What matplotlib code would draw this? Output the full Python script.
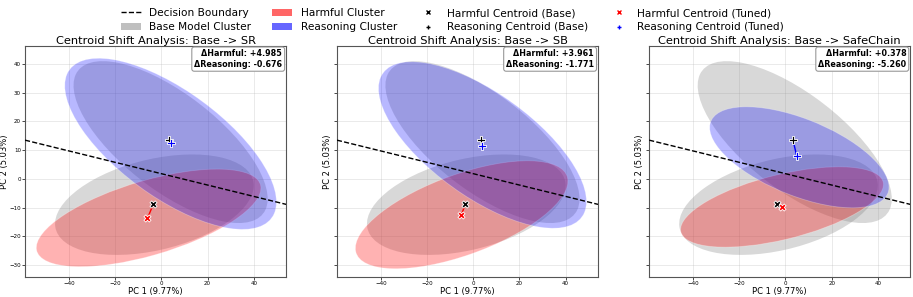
import numpy as np
import matplotlib
matplotlib.use("Agg")
import matplotlib.pyplot as plt
from matplotlib.patches import Ellipse, Patch
from matplotlib.lines import Line2D

# 面板名称与统计量
models = ["SR", "SB", "SafeChain"]
delta_harmful = [4.985, 3.961, 0.378]
delta_reasoning = [-0.676, -1.771, -5.260]

# 质心 (PC1, PC2)
harm_base = (-3.5, -8.9)
reas_base = (3.3, 13.4)
harm_tuned = [(-6.0, -13.7), (-5.1, -12.6), (-1.3, -9.8)]
reas_tuned = [(4.0, 12.6), (3.7, 11.5), (4.9, 7.8)]

# 椭圆: 中心x, 中心y, x半幅, y半幅, 相关系数
base_harm_ell = (-3.0, -9.0, 43.0, 17.5, 0.38)
base_reas_ell = (4.0, 12.8, 42.0, 28.2, -0.70)
harm_ell = [(-5.5, -13.6, 48.6, 17.0, 0.61),
            (-5.0, -12.5, 46.0, 18.8, 0.62),
            (-1.5, -9.8, 43.9, 14.0, 0.56)]
reas_ell = [(4.0, 12.2, 45.8, 29.8, -0.68),
            (4.0, 11.8, 45.0, 29.0, -0.68),
            (6.0, 7.5, 38.8, 17.6, -0.59)]

# 决策边界 y = b + w*x
boundary_w = -0.198
boundary_b = 1.8

xlim = (-59, 54)
ylim = (-34.2, 46.3)


def make_ellipse(p, **kw):
    cx, cy, sx, sy, r = p
    cov = np.array([[sx * sx, r * sx * sy], [r * sx * sy, sy * sy]])
    vals, vecs = np.linalg.eigh(cov)
    order = vals.argsort()[::-1]
    vals, vecs = vals[order], vecs[:, order]
    ang = np.degrees(np.arctan2(vecs[1, 0], vecs[0, 0]))
    return Ellipse((cx, cy), 2 * np.sqrt(vals[0]), 2 * np.sqrt(vals[1]), angle=ang, **kw)


fig = plt.figure(figsize=(9.13, 2.97), dpi=100)
lefts = [0.0274, 0.369, 0.711]
axes = [fig.add_axes([l, 0.0673, 0.286, 0.778]) for l in lefts]

for i, ax in enumerate(axes):
    ax.add_patch(make_ellipse(base_harm_ell, facecolor="gray", alpha=0.3, edgecolor="none"))
    ax.add_patch(make_ellipse(base_reas_ell, facecolor="gray", alpha=0.3, edgecolor="none"))
    ax.add_patch(make_ellipse(harm_ell[i], facecolor="red", alpha=0.3,
                              edgecolor="white", linewidth=0.6))
    ax.add_patch(make_ellipse(reas_ell[i], facecolor="blue", alpha=0.28,
                              edgecolor="white", linewidth=0.6))

    xs = np.array(xlim)
    ax.plot(xs, boundary_b + boundary_w * xs, "k--", lw=1.0, zorder=3)

    ax.plot([harm_base[0], harm_tuned[i][0]], [harm_base[1], harm_tuned[i][1]],
            color="red", lw=1.0, zorder=4)
    ax.plot([reas_base[0], reas_tuned[i][0]], [reas_base[1], reas_tuned[i][1]],
            color="blue", lw=1.0, zorder=4)
    ax.scatter(*harm_base, marker="X", s=26, c="black", edgecolors="white", linewidths=0.6, zorder=5)
    ax.scatter(*reas_base, marker="P", s=26, c="black", edgecolors="white", linewidths=0.6, zorder=5)
    ax.scatter(*harm_tuned[i], marker="X", s=26, c="red", edgecolors="white", linewidths=0.6, zorder=6)
    ax.scatter(*reas_tuned[i], marker="P", s=26, c="blue", edgecolors="white", linewidths=0.6, zorder=6)

    ax.set_xlim(xlim)
    ax.set_ylim(ylim)
    ax.set_xticks([-40, -20, 0, 20, 40])
    ax.set_yticks(range(-30, 41, 10))
    ax.tick_params(labelsize=4, length=2, width=0.5, pad=1)
    if i > 0:
        ax.set_yticklabels([])
    ax.grid(True, alpha=0.3, lw=0.6)
    ax.set_axisbelow(True)
    for s in ax.spines.values():
        s.set_color("#555555")
        s.set_linewidth(0.8)
    ax.set_title(f"Centroid Shift Analysis: Base -> {models[i]}", fontsize=8.2, pad=1.5)
    ax.set_xlabel("PC 1 (9.77%)", fontsize=6, labelpad=0.5)
    ax.set_ylabel("PC 2 (5.03%)", fontsize=6, labelpad=0.5)
    ax.text(0.985, 0.985, f"ΔHarmful: {delta_harmful[i]:+.3f}\nΔReasoning: {delta_reasoning[i]:+.3f}",
            transform=ax.transAxes, ha="right", va="top", fontsize=5.8, fontweight="bold",
            bbox=dict(boxstyle="round,pad=0.3", facecolor="white", edgecolor="#999999", lw=0.8),
            zorder=10)

handles = [
    Line2D([], [], color="black", ls="--", lw=1),
    Patch(facecolor="gray", alpha=0.5),
    Patch(facecolor="red", alpha=0.6),
    Patch(facecolor="blue", alpha=0.6),
    Line2D([], [], ls="none", marker="x", color="black", markersize=2.5),
    Line2D([], [], ls="none", marker="+", color="black", markersize=2.5),
    Line2D([], [], ls="none", marker="x", color="red", markersize=2.5),
    Line2D([], [], ls="none", marker="+", color="blue", markersize=2.5),
]
labels = ["Decision Boundary", "Base Model Cluster", "Harmful Cluster", "Reasoning Cluster",
          "Harmful Centroid (Base)", "Reasoning Centroid (Base)",
          "Harmful Centroid (Tuned)", "Reasoning Centroid (Tuned)"]
fig.legend(handles, labels, loc="upper center", bbox_to_anchor=(0.4956, 1.005), ncol=4,
           frameon=False, fontsize=7.6, handlelength=1.9, columnspacing=2.0, labelspacing=0.4)

fig.savefig("out.png", dpi=100)
